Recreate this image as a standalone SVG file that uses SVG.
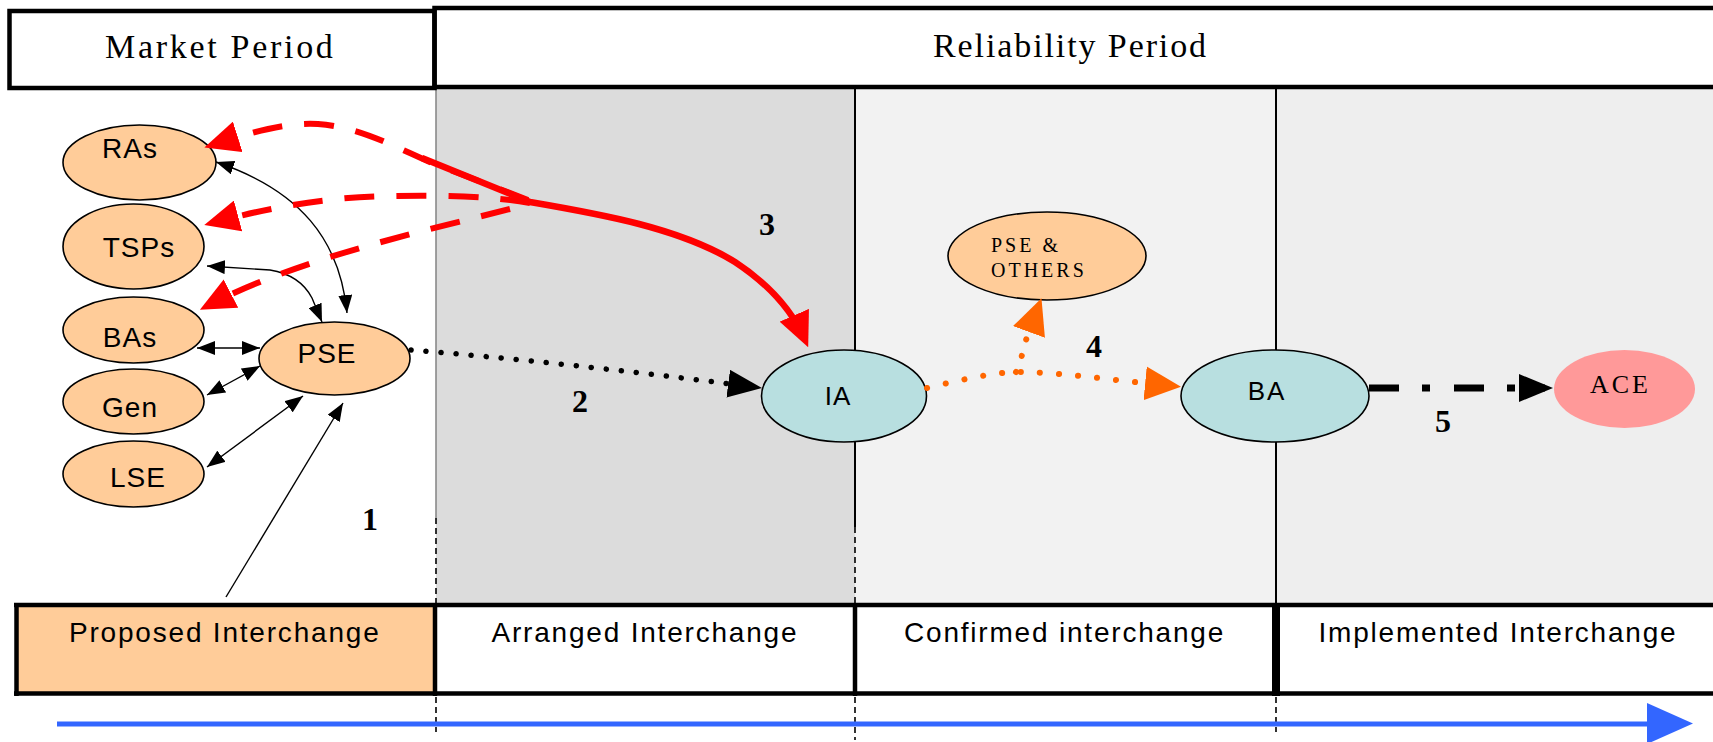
<svg xmlns="http://www.w3.org/2000/svg" width="1713" height="742" viewBox="0 0 1713 742">
  <style>
    .hdr { font-family: "Liberation Serif", "Times New Roman", serif; font-size: 34px; fill: #000; }
    .lbl { font-family: "Liberation Sans", Arial, sans-serif; font-size: 28px; fill: #000; letter-spacing: 1px; }
    .sub { font-family: "Liberation Sans", Arial, sans-serif; font-size: 28px; fill: #000; letter-spacing: 1.8px; }
    .num { font-family: "Liberation Serif", "Times New Roman", serif; font-size: 32px; font-weight: bold; fill: #000; }
    .peach { fill: #FFCC99; stroke: #000; stroke-width: 1.6; }
    .teal { fill: #B8DFE0; stroke: #000; stroke-width: 1.6; }
    .thin { fill: none; stroke: #000; stroke-width: 1.4; }
    .reddash { fill: none; stroke: #FF0000; stroke-width: 6; stroke-dasharray: 30 22; }
    .frame { fill: none; stroke: #000; stroke-width: 4.5; }
    .guide { fill: none; stroke: #000; stroke-width: 1.6; stroke-dasharray: 6 4; }
  </style>
  <defs>
    <marker id="ah" markerUnits="userSpaceOnUse" markerWidth="18" markerHeight="14" refX="18" refY="7" orient="auto-start-reverse">
      <path d="M0,0 L18,7 L0,14 Z" fill="#000"/>
    </marker>
    <marker id="ah-red" markerUnits="userSpaceOnUse" markerWidth="35" markerHeight="32" refX="27" refY="16" orient="auto">
      <path d="M0,0 L35,16 L0,32 Z" fill="#FF0000"/>
    </marker>
    <marker id="ah-blk" markerUnits="userSpaceOnUse" markerWidth="34" markerHeight="28" refX="26" refY="14" orient="auto">
      <path d="M0,0 L34,14 L0,28 Z" fill="#000"/>
    </marker>
    <marker id="ah-org" markerUnits="userSpaceOnUse" markerWidth="36" markerHeight="34" refX="28" refY="17" orient="auto">
      <path d="M0,0 L36,17 L0,34 Z" fill="#FF6600"/>
    </marker>
  </defs>

  <!-- background -->
  <rect x="0" y="0" width="1713" height="742" fill="#FFFFFF"/>

  <!-- phase columns -->
  <g id="columns">
    <rect x="436" y="89" width="419" height="515" fill="#DCDCDC"/>
    <rect x="855" y="89" width="421" height="515" fill="#F2F2F2"/>
    <rect x="1276" y="89" width="437" height="515" fill="#EEEEEE"/>
    <line x1="436" y1="89" x2="436" y2="518" stroke="#8A8A8A" stroke-width="1.6"/>
    <line x1="436" y1="518" x2="436" y2="603" class="guide"/>
    <line x1="855" y1="89" x2="855" y2="527" stroke="#000" stroke-width="2"/>
    <line x1="855" y1="527" x2="855" y2="603" class="guide"/>
    <line x1="1276" y1="89" x2="1276" y2="603" stroke="#000" stroke-width="2"/>
    <line x1="436" y1="697" x2="436" y2="732" class="guide"/>
    <line x1="855" y1="697" x2="855" y2="740" class="guide"/>
    <line x1="1276" y1="697" x2="1276" y2="732" class="guide"/>
  </g>

  <!-- period headers -->
  <g id="market-period">
    <rect x="9.5" y="11" width="425" height="77" class="frame" fill="#FFFFFF"/>
    <text x="105" y="58" class="hdr" style="letter-spacing:2.7px">Market Period</text>
  </g>
  <g id="reliability-period">
    <rect x="434.5" y="8" width="1300" height="79" class="frame" fill="#FFFFFF"/>
    <text x="933" y="57" class="hdr" style="letter-spacing:1.9px">Reliability Period</text>
  </g>

  <!-- interchange states -->
  <g id="proposed-interchange">
    <rect x="16.5" y="605" width="418" height="88.5" fill="#FFCC99"/>
    <text x="69" y="642" class="sub">Proposed Interchange</text>
  </g>
  <g id="arranged-interchange">
    <text x="491.5" y="642" class="sub">Arranged Interchange</text>
  </g>
  <g id="confirmed-interchange">
    <text x="904" y="642" class="sub">Confirmed interchange</text>
  </g>
  <g id="implemented-interchange">
    <text x="1318.5" y="642" class="sub">Implemented Interchange</text>
  </g>
  <g id="state-frame">
    <line x1="14" y1="605" x2="1713" y2="605" class="frame"/>
    <line x1="14" y1="693.5" x2="1713" y2="693.5" class="frame"/>
    <line x1="16.5" y1="603" x2="16.5" y2="696" class="frame"/>
    <line x1="435" y1="603" x2="435" y2="696" class="frame"/>
    <line x1="855" y1="603" x2="855" y2="696" class="frame"/>
    <line x1="1276" y1="603" x2="1276" y2="696" stroke="#000" stroke-width="8"/>
  </g>

  <!-- time axis -->
  <g id="time-axis">
    <line x1="57" y1="724" x2="1650" y2="724" stroke="#3366FF" stroke-width="5"/>
    <polygon points="1647,703 1693,723.5 1647,744" fill="#3366FF"/>
  </g>

  <!-- entities -->
  <g id="node-ras">
    <ellipse cx="139.5" cy="162.5" rx="76.5" ry="37.5" class="peach"/>
    <text x="130" y="158" class="lbl" text-anchor="middle">RAs</text>
  </g>
  <g id="node-tsps">
    <ellipse cx="133.5" cy="246.5" rx="70.5" ry="42.5" class="peach"/>
    <text x="139" y="257" class="lbl" text-anchor="middle">TSPs</text>
  </g>
  <g id="node-bas">
    <ellipse cx="133.5" cy="330" rx="70.5" ry="33" class="peach"/>
    <text x="130" y="347" class="lbl" text-anchor="middle">BAs</text>
  </g>
  <g id="node-gen">
    <ellipse cx="133.5" cy="401.5" rx="70.5" ry="32.5" class="peach"/>
    <text x="130" y="417" class="lbl" text-anchor="middle">Gen</text>
  </g>
  <g id="node-lse">
    <ellipse cx="133.5" cy="474" rx="70.5" ry="33" class="peach"/>
    <text x="138" y="487" class="lbl" text-anchor="middle">LSE</text>
  </g>
  <g id="node-pse">
    <ellipse cx="334.5" cy="358.5" rx="75.5" ry="36.5" class="peach"/>
    <text x="327" y="363" class="lbl" text-anchor="middle">PSE</text>
  </g>
  <g id="node-ia">
    <ellipse cx="844" cy="396" rx="82.5" ry="46" class="teal"/>
    <text x="838" y="405" class="lbl" text-anchor="middle" style="font-size:26px">IA</text>
  </g>
  <g id="node-pse-others">
    <ellipse cx="1047" cy="256" rx="99" ry="44" class="peach"/>
    <text x="991" y="252" class="hdr" style="font-size:20px;letter-spacing:3px">PSE &amp;</text>
    <text x="991" y="277" class="hdr" style="font-size:20px;letter-spacing:3px">OTHERS</text>
  </g>
  <g id="node-ba">
    <ellipse cx="1275" cy="396" rx="94" ry="46" class="teal"/>
    <text x="1267" y="400" class="lbl" text-anchor="middle" style="font-size:26px;letter-spacing:2px">BA</text>
  </g>
  <g id="node-ace">
    <ellipse cx="1624.5" cy="389" rx="70.5" ry="39" fill="#FF9999"/>
    <text x="1590" y="393" class="hdr" style="font-size:26px;letter-spacing:3px">ACE</text>
  </g>

  <!-- connectors -->
  <g id="connectors">
    <!-- step 1: proposal and market participants -->
    <path d="M226,597 L343,403" class="thin" marker-end="url(#ah)"/>
    <path d="M207,467 L303,396" class="thin" marker-start="url(#ah)" marker-end="url(#ah)"/>
    <path d="M207,395 L260,366" class="thin" marker-start="url(#ah)" marker-end="url(#ah)"/>
    <path d="M197,348 L260,348" class="thin" marker-start="url(#ah)" marker-end="url(#ah)"/>
    <path d="M207,266 L270,270 Q300,275 312,298 L322,322" class="thin" marker-start="url(#ah)" marker-end="url(#ah)"/>
    <path d="M216,162 C300,190 340,240 347,313" class="thin" marker-start="url(#ah)" marker-end="url(#ah)"/>

    <!-- step 2: PSE to IA -->
    <path d="M411,350 Q560,362 754,387" fill="none" stroke="#000" stroke-width="5.5" stroke-linecap="round" stroke-dasharray="0.1 15" marker-end="url(#ah-blk)"/>

    <!-- step 3: IA notifications -->
    <path d="M528,200 L432,163 C395,147 360,127 318,124 C285,122 250,133 212,145" class="reddash" marker-end="url(#ah-red)"/>
    <path d="M530,203 C490,196 440,195 390,196 C330,197 275,206 212,223" class="reddash" marker-end="url(#ah-red)"/>
    <path d="M510,209 C420,232 300,258 207,306" class="reddash" marker-end="url(#ah-red)"/>
    <path d="M422,158 L530,202 C600,214 680,228 735,262 C770,285 792,310 805,340" fill="none" stroke="#FF0000" stroke-width="6.5" marker-end="url(#ah-red)"/>

    <!-- step 4: IA to BA and others -->
    <path d="M927,388 C960,380 990,373 1016,372 C1060,372 1110,380 1173,386" fill="none" stroke="#FF6600" stroke-width="6" stroke-linecap="round" stroke-dasharray="0.1 19" marker-end="url(#ah-org)"/>
    <path d="M1016,372 C1022,362 1022,350 1026,340 L1038.7,305.7" fill="none" stroke="#FF6600" stroke-width="6" stroke-linecap="round" stroke-dasharray="0.1 17" marker-end="url(#ah-org)"/>

    <!-- step 5: BA to ACE -->
    <path d="M1369,388 L1545,388" fill="none" stroke="#000" stroke-width="7" stroke-dasharray="30 23 8 24" marker-end="url(#ah-blk)"/>
  </g>

  <!-- step numbers -->
  <g id="step-labels">
    <text x="362" y="530" class="num">1</text>
    <text x="572" y="412" class="num">2</text>
    <text x="759" y="235" class="num">3</text>
    <text x="1086" y="357" class="num">4</text>
    <text x="1435" y="432" class="num">5</text>
  </g>
</svg>
